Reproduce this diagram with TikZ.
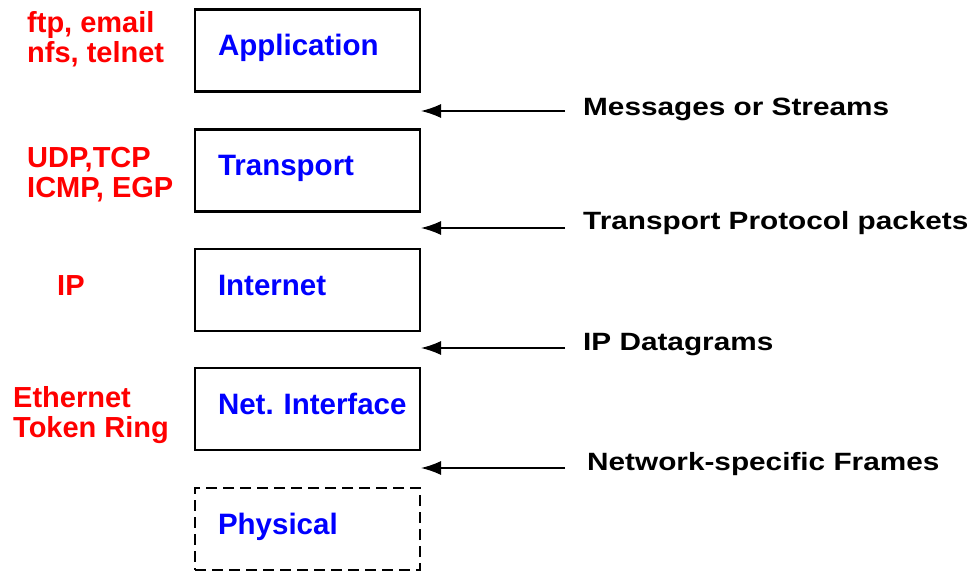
\documentclass[tikz,border=0pt]{standalone}
\usepackage{fontspec}
\setmainfont{Liberation Sans}
\newfontfamily\widesans[FakeStretch=1.19]{Liberation Sans}
\usetikzlibrary{arrows.meta}
\frenchspacing

\begin{document}
\begin{tikzpicture}[
  x=1pt, y=-1pt,
  layer/.style={draw, line width=2.5pt, anchor=north west, outer sep=0pt,
    inner sep=0pt, text width=225pt, minimum height=82pt, align=left,
    text height=46.5pt, text depth=35.5pt, text=blue,
    font=\fontsize{29.5}{34}\selectfont\bfseries,
    execute at begin node={\hspace*{23pt}}},
  proto/.style={anchor=base west, align=left, inner sep=0pt, text=red,
    font=\fontsize{29}{30}\selectfont\bfseries},
  unit/.style={anchor=base west, inner xsep=18pt, inner ysep=0pt,
    font=\widesans\fontsize{25}{30}\selectfont\bfseries},
  arr/.style={-{Latex[length=20pt,width=14pt]}, line width=1.5pt}
]
  \useasboundingbox (0,0) rectangle (973,572);

  % protocol stack
  \node[layer] (app) at (195,9.5) {Application};
  \node[layer] (trn) at (195,129.3) {Transport};
  \node[layer] (inet) at (195,248.8) {Internet};
  \node[layer] (nif) at (195,368) {Net. Interface};
  \node[layer, line width=2pt, dash pattern=on 11pt off 6pt] (phy) at (195,488) {Physical};

  % protocols per layer (base = last line)
  \node[proto] (appp) at (27,63) {ftp, email\\nfs, telnet};
  \node[proto] (trnp) at (27,197) {UDP,TCP\\ICMP, EGP};
  \node[proto] (inetp) at (57,295) {IP};
  \node[proto] (nifp) at (13,437) {Ethernet\\Token Ring};

  % what is passed between layers
  \coordinate (g1) at (421,111);
  \coordinate (g2) at (421,228);
  \coordinate (g3) at (421,348);
  \coordinate (g4) at (421,468);
  \node[unit] (msgs) at (565,116) {Messages or Streams};
  \node[unit] (tpp) at (565,229) {Transport Protocol packets};
  \node[unit] (ipd) at (565,350) {IP Datagrams};
  \node[unit, inner xsep=22pt] (nsf) at (565,470) {Network-specific Frames};
  \draw[arr] (msgs.west |- g1) -- (g1);
  \draw[arr] (tpp.west |- g2) -- (g2);
  \draw[arr] (ipd.west |- g3) -- (g3);
  \draw[arr] (nsf.west |- g4) -- (g4);
\end{tikzpicture}
\end{document}
